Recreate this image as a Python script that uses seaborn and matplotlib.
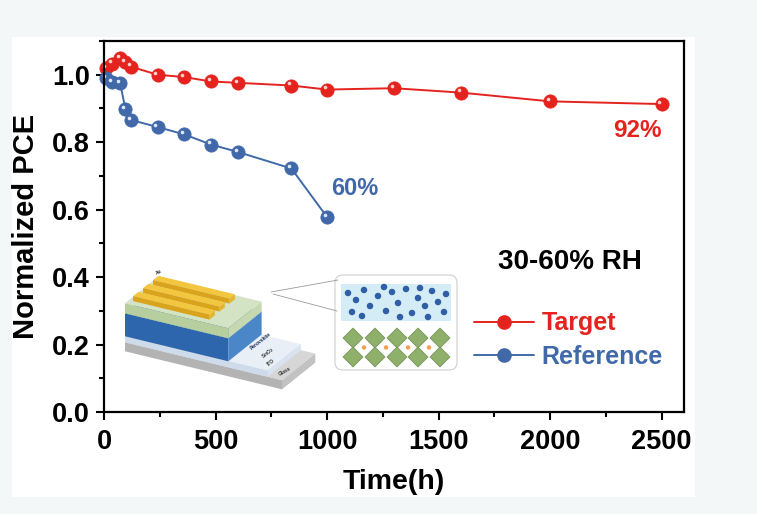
import numpy as np
import pandas as pd
import matplotlib.pyplot as plt
import matplotlib.transforms as mtransforms
from matplotlib.lines import Line2D
from matplotlib.patches import Polygon, FancyBboxPatch, Rectangle, Circle
from matplotlib.ticker import MultipleLocator
import seaborn as sns

# values
target_time = [10, 36, 72, 96, 120, 240, 360, 480, 600, 840, 1000, 1300, 1600, 2000, 2500]
target_pce = [1.02, 1.033, 1.05, 1.038, 1.024, 1.0, 0.993, 0.98, 0.976, 0.968, 0.956, 0.96, 0.947, 0.921, 0.913]
ref_time = [10, 36, 72, 96, 120, 240, 360, 480, 600, 840, 1000]
ref_pce = [0.99, 0.979, 0.976, 0.898, 0.866, 0.845, 0.823, 0.793, 0.771, 0.722, 0.578]
series_names = ['Target', 'Reference']
series_colors = {'Target': '#e5231e', 'Reference': '#4169aa'}
x_ticks = [0, 500, 1000, 1500, 2000, 2500]
y_ticks = [0.0, 0.2, 0.4, 0.6, 0.8, 1.0]

df = pd.concat([
    pd.DataFrame({'Time': target_time, 'PCE': target_pce, 'Sample': 'Target'}),
    pd.DataFrame({'Time': ref_time, 'PCE': ref_pce, 'Sample': 'Reference'}),
])

sns.set_theme(style='ticks')
plt.rcParams['font.family'] = ['Liberation Sans', 'DejaVu Sans']
plt.rcParams['font.weight'] = 'bold'
plt.rcParams['axes.labelweight'] = 'bold'
plt.rcParams['axes.labelcolor'] = 'black'
plt.rcParams['text.color'] = 'black'

fig = plt.figure(figsize=(7.57, 5.14), dpi=100, facecolor='#f4f7f7')
fig.patches.append(Rectangle((12 / 757, 1 - 497 / 514), (695 - 12) / 757, (497 - 37) / 514,
                             transform=fig.transFigure, facecolor='white', edgecolor='none', zorder=-5))
ax = fig.add_axes([104 / 757, 1 - 412 / 514, 580 / 757, 371 / 514], zorder=2)
ax.set_facecolor('white')

sns.lineplot(data=df, x='Time', y='PCE', hue='Sample', palette=series_colors,
             hue_order=series_names, sort=False, marker='o', markersize=9.5,
             linewidth=1.4, markeredgewidth=0.6, legend=False, ax=ax)
for line, name in zip(ax.lines, series_names):
    line.set_markeredgecolor(series_colors[name])
    line.set_clip_on(False)

# little highlight on each sphere marker
shift = mtransforms.ScaledTranslation(-1.6 / 72, 1.6 / 72, fig.dpi_scale_trans)
ax.plot(target_time, target_pce, 'o', ms=2.6, color='#ffd0cc', mec='none',
        transform=ax.transData + shift, clip_on=False)
ax.plot(ref_time, ref_pce, 'o', ms=2.6, color='#dfe8f7', mec='none',
        transform=ax.transData + shift, clip_on=False)

ax.set_xlim(0, 2600)
ax.set_ylim(0, 1.1)
ax.set_xticks(x_ticks)
ax.set_yticks(y_ticks)
ax.set_yticklabels([f'{v:.1f}' for v in y_ticks])
ax.xaxis.set_minor_locator(MultipleLocator(250))
ax.yaxis.set_minor_locator(MultipleLocator(0.1))
ax.tick_params(which='major', direction='out', length=6, width=1.5, labelsize=19.5,
               color='black', labelcolor='black', pad=4)
ax.tick_params(axis='x', which='major', pad=6)
ax.tick_params(which='minor', direction='out', length=3.5, width=1.5, color='black')
for sp in ax.spines.values():
    sp.set_visible(True)
    sp.set_linewidth(1.6)
    sp.set_color('black')
ax.set_xlabel('Time(h)', fontsize=20.5, labelpad=10, color='black')
ax.set_ylabel('Normalized PCE', fontsize=21, labelpad=9, color='black')

ax.text(1125, 0.663, '60%', color=series_colors['Reference'], fontsize=17,
        fontweight='bold', ha='center', va='center')
ax.text(2392, 0.835, '92%', color=series_colors['Target'], fontsize=17.5,
        fontweight='bold', ha='center', va='center')
ax.text(2088, 0.444, '30-60% RH', color='black', fontsize=20,
        fontweight='bold', ha='center', va='center')

handles = [Line2D([], [], color=series_colors[n], marker='o', ms=9.5, lw=1.4,
                  mec=series_colors[n]) for n in series_names]
leg = ax.legend(handles, series_names, loc='upper left', bbox_to_anchor=(0.638, 0.271),
                frameon=False, fontsize=18, handlelength=2.4, handletextpad=0.3,
                labelspacing=0.37, borderpad=0, borderaxespad=0)
for txt, n in zip(leg.get_texts(), series_names):
    txt.set_color(series_colors[n])
    txt.set_fontweight('bold')

# schematic inset (device stack + interface cartoon), drawn in pixel space
deco = fig.add_axes([0, 0, 1, 1], zorder=5)
deco.set_xlim(0, 757)
deco.set_ylim(514, 0)
deco.axis('off')

base = np.array([125.0, 303.3])
u = np.array([103.3, 25.0])
v = np.array([33.3, -26.7])


def P(a, b, c):
    return base + a * u + b * v + np.array([0, c])


def box(a0, a1, b0, b1, c0, c1, top, front, right):
    faces = [
        ([P(a0, b0, c0), P(a1, b0, c0), P(a1, b1, c0), P(a0, b1, c0)], top),
        ([P(a0, b0, c0), P(a1, b0, c0), P(a1, b0, c1), P(a0, b0, c1)], front),
        ([P(a1, b0, c0), P(a1, b1, c0), P(a1, b1, c1), P(a1, b0, c1)], right),
    ]
    for pts, col in faces:
        deco.add_patch(Polygon(pts, closed=True, facecolor=col, edgecolor='none'))


box(0, 1.52, 0, 1, 39, 48, '#d6d6d6', '#b3b3b3', '#c2c2c2')
box(0, 1.38, 0, 1, 33, 39, '#e8eff7', '#cddbea', '#d8e3ef')
box(0, 1.0, 0, 1, 10, 33, '#3d78bd', '#2d66ac', '#4a86c8')
box(0, 1.0, 0, 1, 0, 10, '#d3e3c4', '#b7cf9f', '#c5d8b0')
for b0 in [0.72, 0.42, 0.12]:
    box(0.04, 0.78, b0, b0 + 0.16, -5, 0, '#f3c640', '#d9a31c', '#e6b52e')

deco.text(*P(1.15, 0.5, 22), 'Perovskite', fontsize=3.5, color='#1c2f55',
          rotation=38, ha='center', va='center')
deco.text(*P(1.22, 0.5, 33), 'SnO$_2$', fontsize=3.5, color='#333333',
          rotation=38, ha='center', va='center')
deco.text(*P(1.3, 0.35, 36), 'ITO', fontsize=3.5, color='#333333',
          rotation=38, ha='center', va='center')
deco.text(*P(1.45, 0.3, 40), 'Glass', fontsize=3.5, color='#333333',
          rotation=30, ha='center', va='center')
deco.text(*P(0.02, 0.95, -6), 'Au', fontsize=3.5, color='#333333',
          rotation=30, ha='center', va='center')

deco.plot([271, 338], [292, 280], color='#9a9a9a', lw=0.6)
deco.plot([273, 337], [294, 311], color='#9a9a9a', lw=0.6)

deco.add_patch(FancyBboxPatch((335, 275), 122, 95,
                              boxstyle='round,pad=0,rounding_size=8',
                              facecolor='white', edgecolor='#cfcfcf', lw=0.8))
deco.add_patch(Rectangle((341, 284), 110, 37, facecolor='#d3ecf5', edgecolor='none'))
dots = [(348, 293), (356, 300), (364, 290), (370, 306), (378, 296), (386, 311),
        (392, 292), (398, 303), (406, 289), (412, 313), (418, 298), (425, 306),
        (432, 291), (438, 302), (444, 312), (352, 312), (362, 316), (400, 317),
        (428, 317), (384, 287), (420, 288), (446, 294)]
for dx, dy in dots:
    deco.add_patch(Circle((dx, dy), 3.0, facecolor='#2f5fa8', edgecolor='#1f4788', lw=0.3))
for row_y in [338, 357]:
    for col_x in [353, 375, 397, 418, 440]:
        deco.add_patch(Polygon([(col_x, row_y - 10), (col_x + 10, row_y),
                                (col_x, row_y + 10), (col_x - 10, row_y)],
                               closed=True, facecolor='#8fb06a', edgecolor='#6f8f52', lw=0.5))
for col_x in [364, 386, 408, 429]:
    deco.add_patch(Circle((col_x, 347.5), 2.2, facecolor='#f0a050', edgecolor='none'))

fig.savefig('out.png', dpi=100, facecolor=fig.get_facecolor())
